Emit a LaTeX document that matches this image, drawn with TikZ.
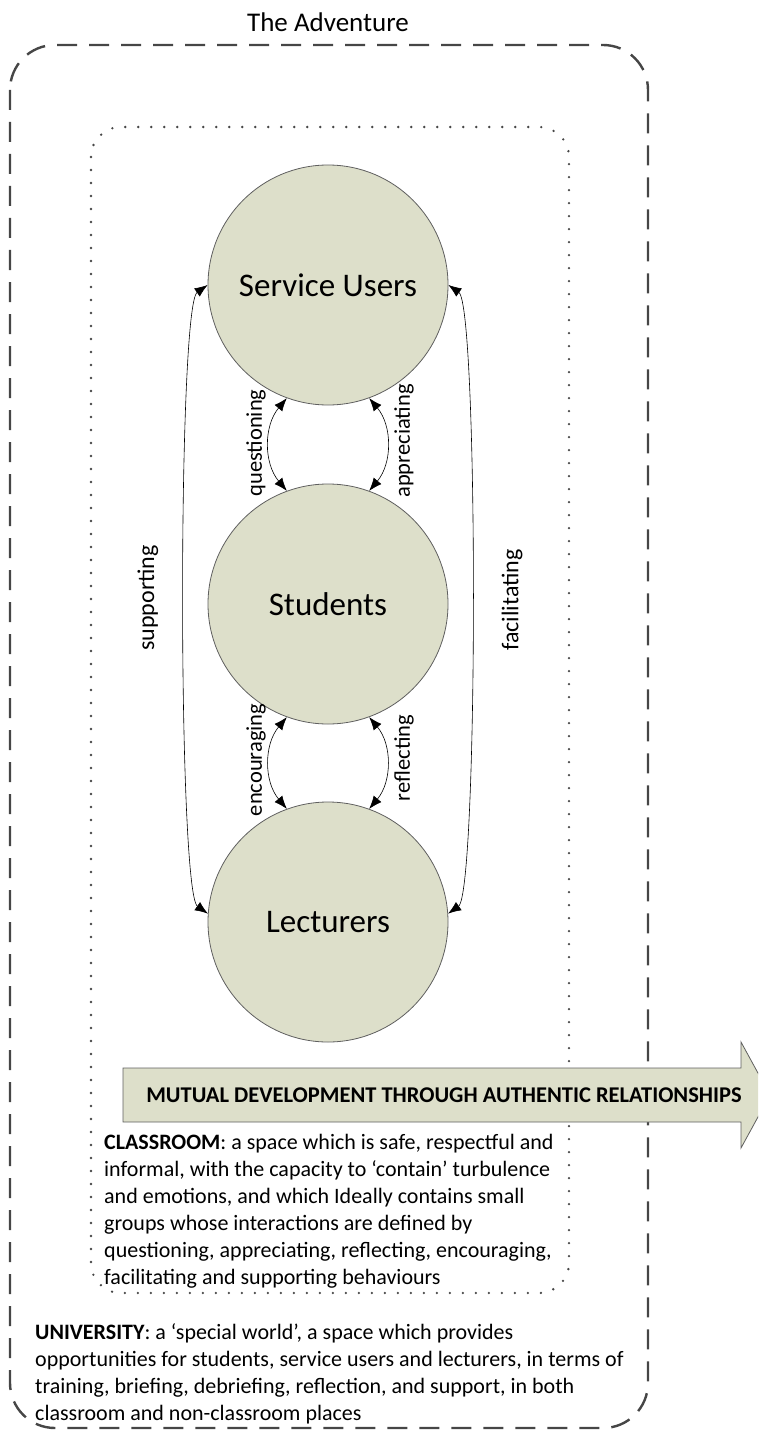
\documentclass[tikz,border=0pt]{standalone}
\usepackage{fontspec}
\setmainfont{Carlito}
\usepackage{xcolor}
\usetikzlibrary{arrows.meta}

\definecolor{sage}{RGB}{221,223,202}
\definecolor{rim}{RGB}{95,95,95}
\definecolor{frame}{RGB}{70,70,70}

\tikzset{
    actor/.style={circle, draw=rim, fill=sage, line width=0.8pt, minimum size=240pt, inner sep=0pt, font=\fontsize{33}{40}\selectfont},
    relation/.style={{Latex[length=13pt,width=10pt]}-{Latex[length=13pt,width=10pt]}, line width=0.6pt},
    verb/.style={rotate=90, inner sep=0pt, font=\fontsize{22.5}{27}\selectfont},
    note/.style={align=left, anchor=north west, inner sep=0pt, font=\fontsize{22}{27}\selectfont},
}

\begin{document}
\begin{tikzpicture}[x=1pt, y=-1pt]
    \useasboundingbox (0,0) rectangle (758,1439);
    \clip (0,0) rectangle (758,1439);

    \node[font=\fontsize{27}{32}\selectfont] (Adventure) at (328,22) {The Adventure};
    \draw[frame, line width=2.4pt, dash pattern=on 20pt off 12pt, rounded corners=45pt] (10,45) rectangle (648,1428);
    \draw[frame, line width=2.6pt, line cap=round, dash pattern=on 0pt off 13pt, rounded corners=30pt] (91,127) rectangle (569,1293);

    \node[actor] (ServiceUsers) at (328,285) {Service Users};
    \node[actor] (Students) at (328,604) {Students};
    \node[actor] (Lecturers) at (328,922) {Lecturers};

    \draw[relation] (ServiceUsers.-110) to[bend right=40] (Students.110);
    \draw[relation] (ServiceUsers.-70) to[bend left=40] (Students.70);
    \draw[relation] (Students.-110) to[bend right=40] (Lecturers.110);
    \draw[relation] (Students.-70) to[bend left=40] (Lecturers.70);
    \draw[relation] (ServiceUsers.180) to[out=215, in=145, looseness=0.15] (Lecturers.176);
    \draw[relation] (ServiceUsers.0) to[out=-35, in=35, looseness=0.15] (Lecturers.4);

    \node[verb] (Questioning) at (256,443) {questioning};
    \node[verb] (Appreciating) at (404,441) {appreciating};
    \node[verb] (Encouraging) at (256,760) {encouraging};
    \node[verb] (Reflecting) at (404,758) {reflecting};
    \node[verb, font=\fontsize{24}{28}\selectfont] (Supporting) at (148,598) {supporting};
    \node[verb, font=\fontsize{24}{28}\selectfont] (Facilitating) at (512,600) {facilitating};

    \draw[rim, fill=sage, line width=0.8pt] (123,1068) -- (741,1068) -- (741,1042) -- (770,1095) -- (741,1148) -- (741,1122) -- (123,1122) -- cycle;
    \node[font=\fontsize{22.5}{26}\selectfont\bfseries] (Development) at (444,1095) {MUTUAL DEVELOPMENT THROUGH AUTHENTIC RELATIONSHIPS};

    \node[note] (Classroom) at (104,1134) {\textbf{CLASSROOM}: a space which is safe, respectful and\\
        informal, with the capacity to `contain' turbulence\\
        and emotions, and which Ideally contains small\\
        groups whose interactions are defined by\\
        questioning, appreciating, reflecting, encouraging,\\
        facilitating and supporting behaviours};
    \node[note] (University) at (35,1323) {\textbf{UNIVERSITY}: a `special world', a space which provides\\
        opportunities for students, service users and lecturers, in terms of\\
        training, briefing, debriefing, reflection, and support, in both\\
        classroom and non-classroom places};
\end{tikzpicture}
\end{document}
